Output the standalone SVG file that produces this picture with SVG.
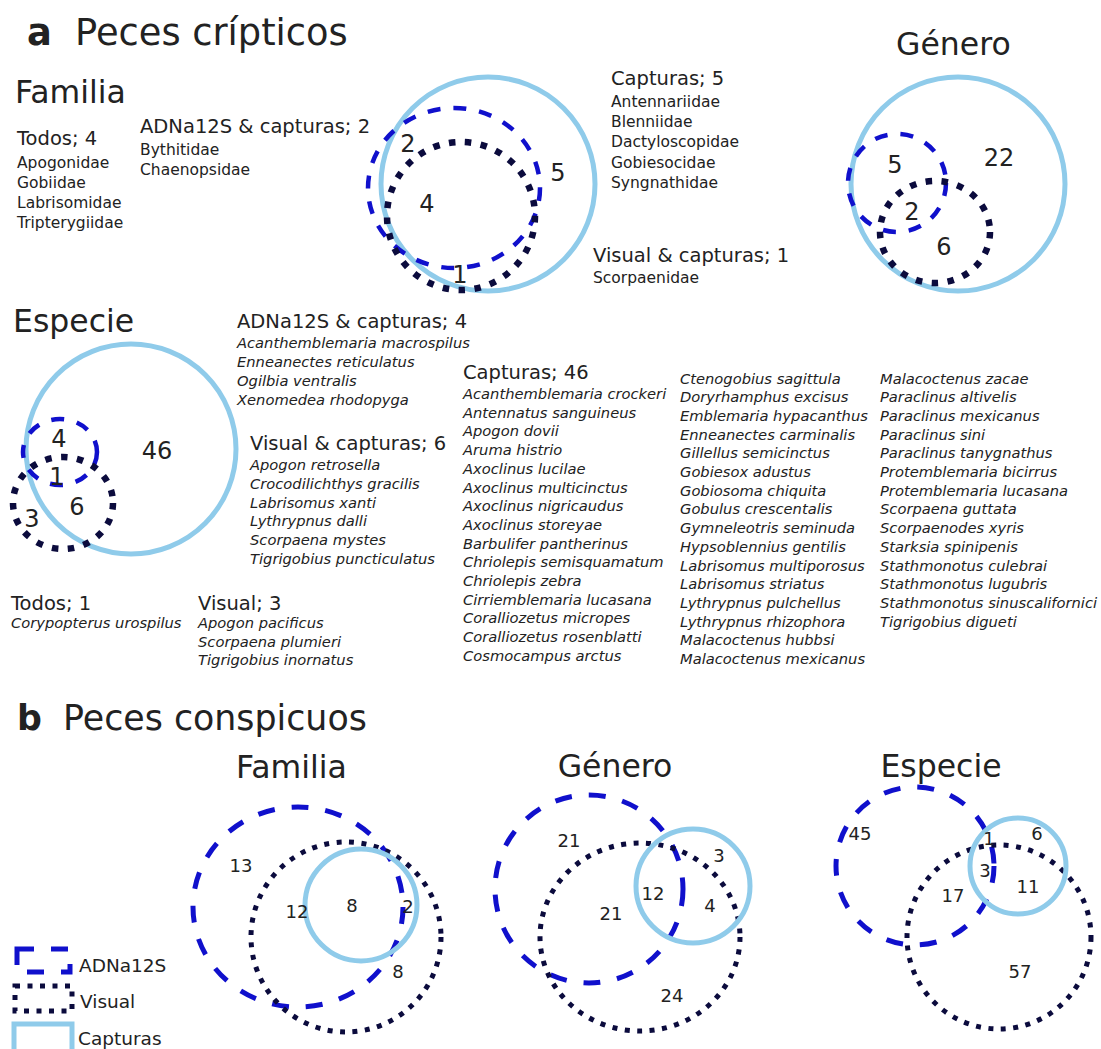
<svg xmlns="http://www.w3.org/2000/svg" width="1101" height="1049" viewBox="0 0 1101 1049">
<style>
  text { font-family: "DejaVu Sans", "Liberation Sans", sans-serif; fill: #222; }
  .ta { font-size: 36.8px; }
  .tb { font-size: 34.8px; }
  .bold { font-weight: bold; }
  .sub { font-size: 31.5px; }
  .mid { text-anchor: middle; }
  .hdr { font-size: 19.5px; }
  .fam { font-size: 15.5px; }
  .sp { font-size: 14.7px; font-style: italic; }
  .n24 { font-size: 24px; text-anchor: middle; }
  .n18 { font-size: 18px; text-anchor: middle; }
  .leg { font-size: 18.5px; }
  .cap { fill: none; stroke: #8fcbea; stroke-width: 5; }
  .adnA { fill: none; stroke: #1010cc; stroke-width: 4.5; stroke-dasharray: 13 13; }
  .visA { fill: none; stroke: #0b0b3d; stroke-width: 6.5; stroke-dasharray: 6.5 9.5; }
  .adnB { fill: none; stroke: #1010cc; stroke-width: 5; stroke-dasharray: 17 17; }
  .visB { fill: none; stroke: #0b0b3d; stroke-width: 5; stroke-dasharray: 5 7.5; }
</style>

<!-- Panel a: cryptic fishes -->
<g id="panel-a">
  <text class="ta bold" x="27" y="45">a</text>
  <text class="ta" x="75" y="45">Peces crípticos</text>

  <!-- Family level -->
  <g id="a-familia">
    <text class="sub" x="15" y="103">Familia</text>
    <g id="a-familia-venn">
      <circle class="cap" cx="488" cy="184" r="107"/>
      <ellipse class="adnA" cx="454" cy="188" rx="86" ry="80"/>
      <circle class="visA" cx="461" cy="216" r="74"/>
      <text class="n24" x="408" y="152">2</text>
      <text class="n24" x="427" y="212">4</text>
      <text class="n24" x="558" y="181">5</text>
      <text class="n24" x="460" y="283">1</text>
    </g>
    <text class="hdr" x="17" y="145">Todos; 4</text>
    <text class="fam" x="17" y="168">Apogonidae<tspan x="17" dy="20">Gobiidae</tspan><tspan x="17" dy="20">Labrisomidae</tspan><tspan x="17" dy="20">Tripterygiidae</tspan></text>
    <text class="hdr" x="140" y="133">ADNa12S &amp; capturas; 2</text>
    <text class="fam" x="140" y="155">Bythitidae<tspan x="140" dy="20">Chaenopsidae</tspan></text>
    <text class="hdr" x="611" y="85">Capturas; 5</text>
    <text class="fam" x="611" y="107">Antennariidae<tspan x="611" dy="20.2">Blenniidae</tspan><tspan x="611" dy="20.2">Dactyloscopidae</tspan><tspan x="611" dy="20.2">Gobiesocidae</tspan><tspan x="611" dy="20.2">Syngnathidae</tspan></text>
    <text class="hdr" x="593" y="262">Visual &amp; capturas; 1</text>
    <text class="fam" x="593" y="283">Scorpaenidae</text>
  </g>

  <!-- Genus level -->
  <g id="a-genero">
    <text class="sub" x="896" y="55">Género</text>
    <circle class="cap" cx="958" cy="184" r="107"/>
    <circle class="adnA" cx="897" cy="183" r="49"/>
    <ellipse class="visA" cx="935" cy="232" rx="55" ry="51"/>
    <text class="n24" x="895" y="173">5</text>
    <text class="n24" x="999" y="166">22</text>
    <text class="n24" x="912" y="220">2</text>
    <text class="n24" x="944" y="255">6</text>
  </g>

  <!-- Species level -->
  <g id="a-especie">
    <text class="sub" x="13" y="332">Especie</text>
    <circle class="cap" cx="131" cy="449" r="105"/>
    <ellipse class="adnA" cx="60" cy="452" rx="37" ry="33"/>
    <ellipse class="visA" cx="63" cy="503" rx="50" ry="46"/>
    <text class="n24" x="59" y="447">4</text>
    <text class="n24" x="157" y="459">46</text>
    <text class="n24" x="57" y="485">1</text>
    <text class="n24" x="77" y="515">6</text>
    <text class="n24" x="32" y="527">3</text>

    <text class="hdr" x="237" y="328">ADNa12S &amp; capturas; 4</text>
    <text class="sp" x="237" y="348">Acanthemblemaria macrospilus<tspan x="237" dy="19">Enneanectes reticulatus</tspan><tspan x="237" dy="19">Ogilbia ventralis</tspan><tspan x="237" dy="19">Xenomedea rhodopyga</tspan></text>

    <text class="hdr" x="250" y="450">Visual &amp; capturas; 6</text>
    <text class="sp" x="250" y="470">Apogon retrosella<tspan x="250" dy="18.8">Crocodilichthys gracilis</tspan><tspan x="250" dy="18.8">Labrisomus xanti</tspan><tspan x="250" dy="18.8">Lythrypnus dalli</tspan><tspan x="250" dy="18.8">Scorpaena mystes</tspan><tspan x="250" dy="18.8">Tigrigobius puncticulatus</tspan></text>

    <text class="hdr" x="11" y="610">Todos; 1</text>
    <text class="sp" x="11" y="628">Corypopterus urospilus</text>

    <text class="hdr" x="198" y="610">Visual; 3</text>
    <text class="sp" x="198" y="628">Apogon pacificus<tspan x="198" dy="18.5">Scorpaena plumieri</tspan><tspan x="198" dy="18.5">Tigrigobius inornatus</tspan></text>

    <text class="hdr" x="463" y="379">Capturas; 46</text>
    <text class="sp" x="463" y="399">Acanthemblemaria crockeri<tspan x="463" dy="18.7">Antennatus sanguineus</tspan><tspan x="463" dy="18.7">Apogon dovii</tspan><tspan x="463" dy="18.7">Aruma histrio</tspan><tspan x="463" dy="18.7">Axoclinus lucilae</tspan><tspan x="463" dy="18.7">Axoclinus multicinctus</tspan><tspan x="463" dy="18.7">Axoclinus nigricaudus</tspan><tspan x="463" dy="18.7">Axoclinus storeyae</tspan><tspan x="463" dy="18.7">Barbulifer pantherinus</tspan><tspan x="463" dy="18.7">Chriolepis semisquamatum</tspan><tspan x="463" dy="18.7">Chriolepis zebra</tspan><tspan x="463" dy="18.7">Cirriemblemaria lucasana</tspan><tspan x="463" dy="18.7">Coralliozetus micropes</tspan><tspan x="463" dy="18.7">Coralliozetus rosenblatti</tspan><tspan x="463" dy="18.7">Cosmocampus arctus</tspan></text>

    <text class="sp" x="680" y="383.5">Ctenogobius sagittula<tspan x="680" dy="18.7">Doryrhamphus excisus</tspan><tspan x="680" dy="18.7">Emblemaria hypacanthus</tspan><tspan x="680" dy="18.7">Enneanectes carminalis</tspan><tspan x="680" dy="18.7">Gillellus semicinctus</tspan><tspan x="680" dy="18.7">Gobiesox adustus</tspan><tspan x="680" dy="18.7">Gobiosoma chiquita</tspan><tspan x="680" dy="18.7">Gobulus crescentalis</tspan><tspan x="680" dy="18.7">Gymneleotris seminuda</tspan><tspan x="680" dy="18.7">Hypsoblennius gentilis</tspan><tspan x="680" dy="18.7">Labrisomus multiporosus</tspan><tspan x="680" dy="18.7">Labrisomus striatus</tspan><tspan x="680" dy="18.7">Lythrypnus pulchellus</tspan><tspan x="680" dy="18.7">Lythrypnus rhizophora</tspan><tspan x="680" dy="18.7">Malacoctenus hubbsi</tspan><tspan x="680" dy="18.7">Malacoctenus mexicanus</tspan></text>

    <text class="sp" x="880" y="383.5">Malacoctenus zacae<tspan x="880" dy="18.7">Paraclinus altivelis</tspan><tspan x="880" dy="18.7">Paraclinus mexicanus</tspan><tspan x="880" dy="18.7">Paraclinus sini</tspan><tspan x="880" dy="18.7">Paraclinus tanygnathus</tspan><tspan x="880" dy="18.7">Protemblemaria bicirrus</tspan><tspan x="880" dy="18.7">Protemblemaria lucasana</tspan><tspan x="880" dy="18.7">Scorpaena guttata</tspan><tspan x="880" dy="18.7">Scorpaenodes xyris</tspan><tspan x="880" dy="18.7">Starksia spinipenis</tspan><tspan x="880" dy="18.7">Stathmonotus culebrai</tspan><tspan x="880" dy="18.7">Stathmonotus lugubris</tspan><tspan x="880" dy="18.7">Stathmonotus sinuscalifornici</tspan><tspan x="880" dy="18.7">Tigrigobius digueti</tspan></text>
  </g>
</g>

<!-- Panel b: conspicuous fishes -->
<g id="panel-b">
  <text class="tb bold" x="17" y="730">b</text>
  <text class="tb" x="63" y="730">Peces conspicuos</text>

  <g id="b-familia">
    <text class="sub" x="236" y="778">Familia</text>
    <ellipse class="adnB" cx="298" cy="907" rx="105" ry="100"/>
    <circle class="visB" cx="346" cy="937" r="95"/>
    <circle class="cap" cx="361" cy="905" r="56"/>
    <text class="n18" x="241" y="872">13</text>
    <text class="n18" x="297" y="918">12</text>
    <text class="n18" x="352" y="912">8</text>
    <text class="n18" x="408" y="913">2</text>
    <text class="n18" x="398" y="978">8</text>
  </g>

  <g id="b-genero">
    <text class="sub mid" x="615" y="777">Género</text>
    <circle class="adnB" cx="589" cy="889" r="94"/>
    <ellipse class="visB" cx="640" cy="937" rx="100" ry="94"/>
    <circle class="cap" cx="693" cy="886" r="57"/>
    <text class="n18" x="569" y="847">21</text>
    <text class="n18" x="719" y="862">3</text>
    <text class="n18" x="653" y="900">12</text>
    <text class="n18" x="611" y="920">21</text>
    <text class="n18" x="710" y="912">4</text>
    <text class="n18" x="672" y="1002">24</text>
  </g>

  <g id="b-especie">
    <text class="sub mid" x="941" y="777">Especie</text>
    <circle class="adnB" cx="915" cy="866" r="79"/>
    <circle class="visB" cx="999" cy="937" r="92"/>
    <circle class="cap" cx="1018" cy="866" r="48"/>
    <text class="n18" x="860" y="840">45</text>
    <text class="n18" x="989" y="845">1</text>
    <text class="n18" x="1037" y="840">6</text>
    <text class="n18" x="985" y="877">3</text>
    <text class="n18" x="1028" y="893">11</text>
    <text class="n18" x="953" y="902">17</text>
    <text class="n18" x="1020" y="978">57</text>
  </g>

  <!-- Legend -->
  <g id="legend">
    <rect class="adnB" x="17" y="949" width="53" height="23"/>
    <text class="leg" x="79" y="972">ADNa12S</text>
    <rect class="visB" x="15" y="986" width="57" height="25"/>
    <text class="leg" x="80" y="1008">Visual</text>
    <rect class="cap" x="14" y="1024" width="58" height="30"/>
    <text class="leg" x="78" y="1045">Capturas</text>
  </g>
</g>
</svg>
